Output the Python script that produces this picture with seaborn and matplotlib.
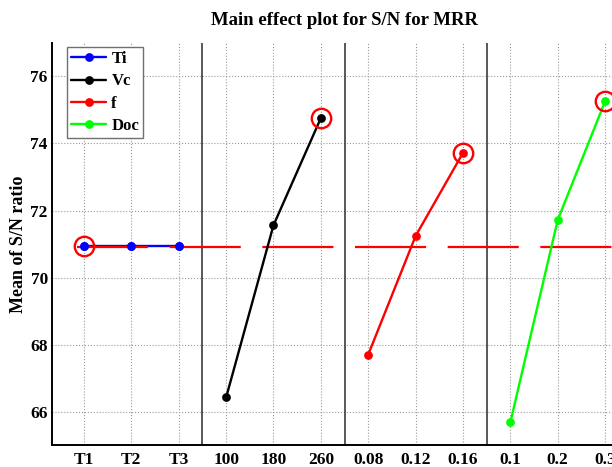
import matplotlib
matplotlib.use("Agg")
import matplotlib.pyplot as plt
import numpy as np
import pandas as pd
import seaborn as sns

FIGURE_SIZE = (6.12, 4.67)
DPI = 100

# factor levels and mean S/N ratios
FACTORS = ["Ti", "Vc", "f", "Doc"]
TI_LEVELS = ["T1", "T2", "T3"]
TI_SN = [70.93, 70.93, 70.93]
VC_LEVELS = ["100", "180", "260"]
VC_SN = [66.42, 71.56, 74.76]
F_LEVELS = ["0.08", "0.12", "0.16"]
F_SN = [67.70, 71.24, 73.72]
DOC_LEVELS = ["0.1", "0.2", "0.3"]
DOC_SN = [65.68, 71.72, 75.26]
GRAND_MEAN = 70.91
Y_TICKS = [66, 68, 70, 72, 74, 76]

COLORS = {"Ti": "#0000ff", "Vc": "#000000", "f": "#ff0000", "Doc": "#00ff00"}
GRID_COLOR = "#9a9a9a"
SEP_COLOR = "#3c3c3c"


def build_frame():
    rows = []
    pos = 1
    for factor, levels, values in zip(
        FACTORS,
        [TI_LEVELS, VC_LEVELS, F_LEVELS, DOC_LEVELS],
        [TI_SN, VC_SN, F_SN, DOC_SN],
    ):
        for lev, val in zip(levels, values):
            rows.append({"factor": factor, "level": lev, "sn": val, "pos": pos})
            pos += 1
    return pd.DataFrame(rows)


def plot_main_effects(df):
    sns.set_theme(style="white")
    plt.rcParams["font.family"] = ["Liberation Serif", "DejaVu Serif"]
    plt.rcParams["font.weight"] = "bold"
    plt.rcParams["text.color"] = "black"
    plt.rcParams["axes.labelcolor"] = "black"

    fig = plt.figure(figsize=FIGURE_SIZE, dpi=DPI)
    ax = fig.add_axes([0.085, 0.047, 0.956, 0.861])

    xmin, xmax = df.pos.min() - 0.675, df.pos.max() + 0.675
    ax.set_xlim(xmin, xmax)
    ax.set_ylim(65, 77)

    for factor in FACTORS:
        sub = df[df.factor == factor]
        sns.lineplot(
            data=sub, x="pos", y="sn", ax=ax, color=COLORS[factor],
            marker="o", markersize=6.3, markeredgewidth=0,
            markeredgecolor=COLORS[factor], linewidth=1.7, label=factor,
            zorder=2 if factor == "Ti" else 4,
        )

    # grand mean, dashed red line over the Ti line
    start = (df.pos.min() - 0.15 - xmin) / (xmax - xmin)
    ax.axhline(GRAND_MEAN, xmin=start, xmax=1, color="#ff0000",
               linewidth=1.6, linestyle=(0, (32, 9.7)), zorder=3)

    # Ti markers drawn again so they sit on top of the mean line
    ti = df[df.factor == "Ti"]
    ax.plot(ti.pos, ti.sn, "o", color=COLORS["Ti"], markersize=6.3,
            markeredgewidth=0, zorder=5)

    # circle the best level of each factor
    for factor in FACTORS:
        sub = df[df.factor == factor]
        best = sub.loc[sub.sn.idxmax()]
        ax.plot(best.pos, best.sn, "o", markerfacecolor="none",
                markeredgecolor="#ff0000", markersize=14, markeredgewidth=1.7,
                zorder=6)

    # separators between factors
    for factor in FACTORS[:-1]:
        ax.axvline(df[df.factor == factor].pos.max() + 0.5,
                   color=SEP_COLOR, linewidth=1.2, zorder=1)

    ax.set_xticks(df.pos)
    ax.set_xticklabels(df.level)
    ax.set_yticks(Y_TICKS)
    ax.tick_params(direction="in", length=4, width=1, labelsize=12.5,
                   colors="black", pad=5)
    ax.tick_params(axis="y", pad=3)

    ax.grid(True, linestyle=":", color=GRID_COLOR, linewidth=0.8)
    ax.set_axisbelow(True)

    for side in ["top", "right"]:
        ax.spines[side].set_visible(False)
    for side in ["left", "bottom"]:
        ax.spines[side].set_color("black")
        ax.spines[side].set_linewidth(1.4)

    ax.set_xlabel("")
    ax.set_ylabel("Mean of S/N ratio", fontsize=13, fontweight="bold",
                  labelpad=2, color="black")
    ax.set_title("Main effect plot for S/N for MRR", fontsize=13.5,
                 fontweight="bold", pad=13, color="black")

    leg = ax.legend(
        loc="upper left", bbox_to_anchor=(0.026, 0.99), frameon=True,
        fancybox=False, edgecolor="#707070", framealpha=1,
        prop={"weight": "bold", "size": 12}, handlelength=2.1,
        borderpad=0.25, labelspacing=0.38, handletextpad=0.3, borderaxespad=0,
        labelcolor="black",
    )
    leg.get_frame().set_linewidth(1.0)

    fig.savefig("out.png", dpi=DPI)


def main():
    df = build_frame()
    plot_main_effects(df)


if __name__ == "__main__":
    main()
